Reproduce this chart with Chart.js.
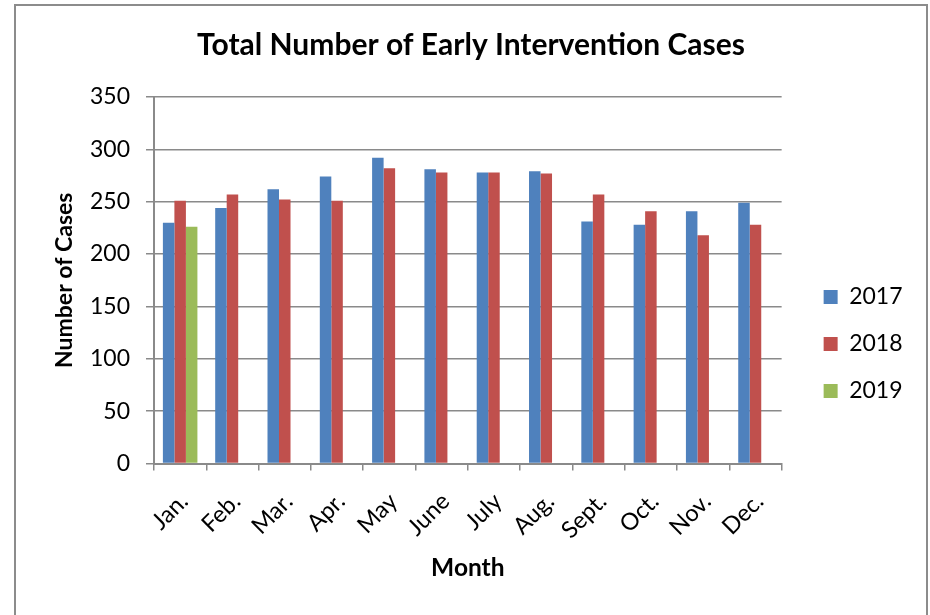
<!DOCTYPE html>
<html><head><meta charset="utf-8">
<script src="https://cdn.jsdelivr.net/npm/chart.js@4.4.0/dist/chart.umd.min.js"></script>
<style>
html,body{margin:0;padding:0;background:#fff;overflow:hidden;}
#frame{position:absolute;left:14px;top:4px;width:914px;height:640px;border:2px solid #8c8c8c;box-sizing:border-box;}
canvas{position:absolute;left:0;top:0;}
</style></head><body>
<div id="frame"></div>
<canvas id="c" width="930" height="615"></canvas>
<script>
const months = ['Jan.','Feb.','Mar.','Apr.','May','June','July','Aug.','Sept.','Oct.','Nov.','Dec.'];
const cases2017 = [230,244,262,274,292,281,278,279,231,228,241,249];
const cases2018 = [251,257,252,251,282,278,278,277,257,241,218,228];
const cases2019 = [226,null,null,null,null,null,null,null,null,null,null,null];
const seriesNames = ['2017','2018','2019'];
const yMin = 0, yMax = 350, yStep = 50;

const FONT = 'Lato';
const GRID = '#8a8a8a';
const PAD_L = 47.5, PAD_R = 35.5, PAD_T = 10, PAD_B = 10;
const LEGEND_DX = 18, LEGEND_DY = 36.5;

const legendShift = {
  id: 'legendShift',
  afterLayout(chart) {
    const l = chart.legend;
    if (!l) return;
    l.left += LEGEND_DX; l.right += LEGEND_DX;
    l.top += LEGEND_DY; l.bottom += LEGEND_DY;
  }
};

new Chart(document.getElementById('c'), {
  type: 'bar',
  data: {
    labels: months,
    datasets: [
      {label: seriesNames[0], data: cases2017, backgroundColor: '#4F81BD'},
      {label: seriesNames[1], data: cases2018, backgroundColor: '#C0504D'},
      {label: seriesNames[2], data: cases2019, backgroundColor: '#9BBB59'}
    ]
  },
  options: {
    responsive: false,
    animation: false,
    datasets: {bar: {barPercentage: 1, categoryPercentage: 0.66}},
    layout: {padding: {top: PAD_T, left: PAD_L, right: PAD_R, bottom: PAD_B}},
    plugins: {
      tooltip: {enabled: false},
      title: {
        display: true,
        text: 'Total Number of Early Intervention Cases',
        color: '#000',
        font: {family: FONT, size: 30, weight: 'bold', lineHeight: 1.2},
        padding: {top: 17, bottom: 34}
      },
      legend: {
        position: 'right',
        labels: {
          color: '#000',
          font: {family: FONT, size: 23, lineHeight: 1},
          boxWidth: 14, boxHeight: 14,
          padding: 24
        }
      }
    },
    scales: {
      x: {
        grid: {display: true, drawOnChartArea: false, drawTicks: true, tickLength: 7, color: GRID, lineWidth: 1.5, offset: true},
        border: {display: true, color: GRID, width: 2},
        ticks: {color: '#000', font: {family: FONT, size: 23.5}, minRotation: 45, maxRotation: 45, autoSkip: false, padding: 17, labelOffset: 4},
        title: {display: true, text: 'Month', color: '#000', font: {family: FONT, size: 24.5, weight: 'bold', lineHeight: 1.2}, padding: {top: 0, bottom: 22.3}},
        afterFit(s) { s.height = (615 - PAD_B) - 463.5; }
      },
      y: {
        min: yMin, max: yMax,
        grid: {color: GRID, lineWidth: 1.5, drawTicks: true, tickLength: 8},
        border: {display: true, color: GRID, width: 2},
        ticks: {stepSize: yStep, color: '#000', font: {family: FONT, size: 23}, padding: 16},
        title: {display: true, text: 'Number of Cases', color: '#000', font: {family: FONT, size: 23, weight: 'bold', lineHeight: 1.2}, padding: {top: 3.7, bottom: 0}},
        afterFit(s) { s.width = 154 - PAD_L; }
      }
    }
  },
  plugins: [legendShift]
});
</script>
</body></html>
